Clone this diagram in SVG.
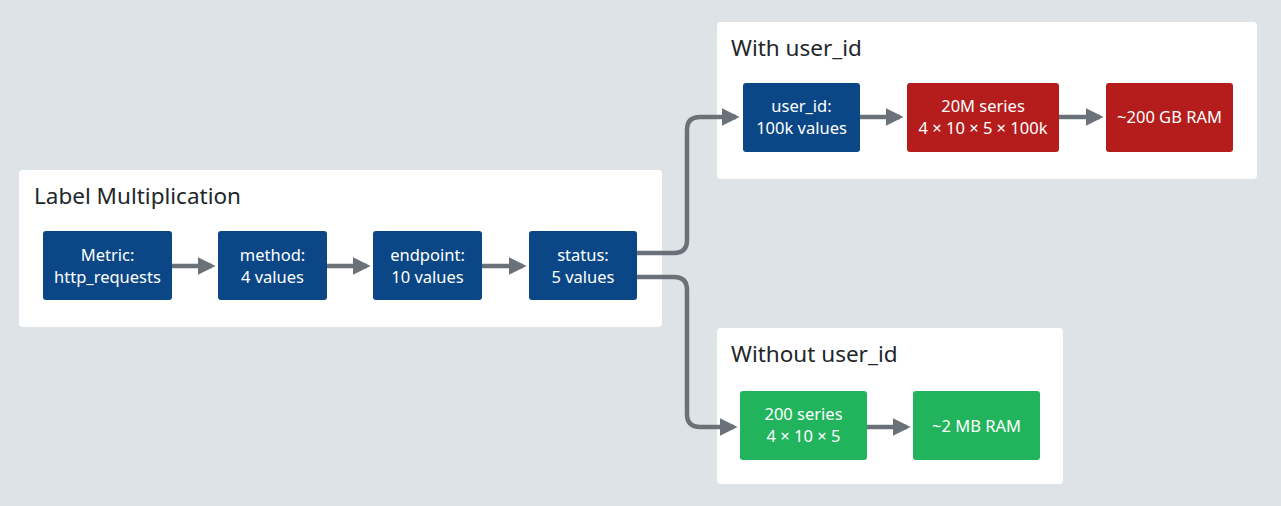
<svg xmlns="http://www.w3.org/2000/svg" width="1281" height="506" viewBox="0 0 1281 506">
<defs>
<marker id="ah" markerWidth="4" markerHeight="4" refX="3.2" refY="2" orient="auto" markerUnits="strokeWidth">
<path d="M0,0 L4,2 L0,4 Z" fill="#6b7178"/>
</marker>
<style>
.bg{fill:#dee3e8}
.panel{fill:#ffffff}
.title{font-family:"Noto Sans","Liberation Sans",sans-serif;font-size:22.5px;fill:#222629}
.blue{fill:#0b4787}
.red{fill:#b51d1d}
.green{fill:#22b45c}
.nt{font-family:"Noto Sans","Liberation Sans",sans-serif;font-size:16.5px;fill:#ffffff;text-anchor:middle}
.conn{fill:none;stroke:#6b7178;stroke-width:4.5;marker-end:url(#ah)}
</style>
</defs>
<rect class="bg" x="0" y="0" width="1281" height="506"/>

<g id="panel-label-mult">
<rect class="panel" x="19" y="170" width="643" height="157" rx="4"/>
<text class="title" x="34" y="204">Label Multiplication</text>
</g>
<g id="panel-with">
<rect class="panel" x="717" y="22" width="540" height="157" rx="4"/>
<text class="title" x="731" y="56">With user_id</text>
</g>
<g id="panel-without">
<rect class="panel" x="717" y="328" width="346" height="156" rx="4"/>
<text class="title" x="731" y="362">Without user_id</text>
</g>

<g id="connectors">
<path class="conn" d="M172,266 L212,266"/>
<path class="conn" d="M327,266 L367,266"/>
<path class="conn" d="M482,266 L523,266"/>
<path class="conn" d="M637,253 L674,253 Q687,253 687,240 L687,130 Q687,117 700,117 L736,117"/>
<path class="conn" d="M637,277 L674,277 Q687,277 687,290 L687,414 Q687,427 700,427 L734,427"/>
<path class="conn" d="M860,117 L900,117"/>
<path class="conn" d="M1059,117 L1100,117"/>
<path class="conn" d="M867,427 L907,427"/>
</g>

<g id="node-metric">
<rect class="blue" x="43" y="231" width="129" height="69" rx="3"/>
<text class="nt" x="107.5" y="261">Metric:</text>
<text class="nt" x="107.5" y="283">http_requests</text>
</g>
<g id="node-method">
<rect class="blue" x="218" y="231" width="109" height="69" rx="3"/>
<text class="nt" x="272.5" y="261">method:</text>
<text class="nt" x="272.5" y="283">4 values</text>
</g>
<g id="node-endpoint">
<rect class="blue" x="373" y="231" width="109" height="69" rx="3"/>
<text class="nt" x="427.5" y="261">endpoint:</text>
<text class="nt" x="427.5" y="283">10 values</text>
</g>
<g id="node-status">
<rect class="blue" x="529" y="231" width="108" height="69" rx="3"/>
<text class="nt" x="583" y="261">status:</text>
<text class="nt" x="583" y="283">5 values</text>
</g>

<g id="node-userid">
<rect class="blue" x="743" y="83" width="117" height="69" rx="3"/>
<text class="nt" x="801.5" y="112">user_id:</text>
<text class="nt" x="801.5" y="134">100k values</text>
</g>
<g id="node-20m">
<rect class="red" x="907" y="83" width="152" height="69" rx="3"/>
<text class="nt" x="983" y="112">20M series</text>
<text class="nt" x="983" y="134">4 × 10 × 5 × 100k</text>
</g>
<g id="node-200gb">
<rect class="red" x="1106" y="83" width="127" height="69" rx="3"/>
<text class="nt" x="1169.5" y="123">~200 GB RAM</text>
</g>

<g id="node-200series">
<rect class="green" x="740" y="391" width="127" height="69" rx="3"/>
<text class="nt" x="803.5" y="420">200 series</text>
<text class="nt" x="803.5" y="442">4 × 10 × 5</text>
</g>
<g id="node-2mb">
<rect class="green" x="913" y="391" width="127" height="69" rx="3"/>
<text class="nt" x="976.5" y="432">~2 MB RAM</text>
</g>
</svg>
